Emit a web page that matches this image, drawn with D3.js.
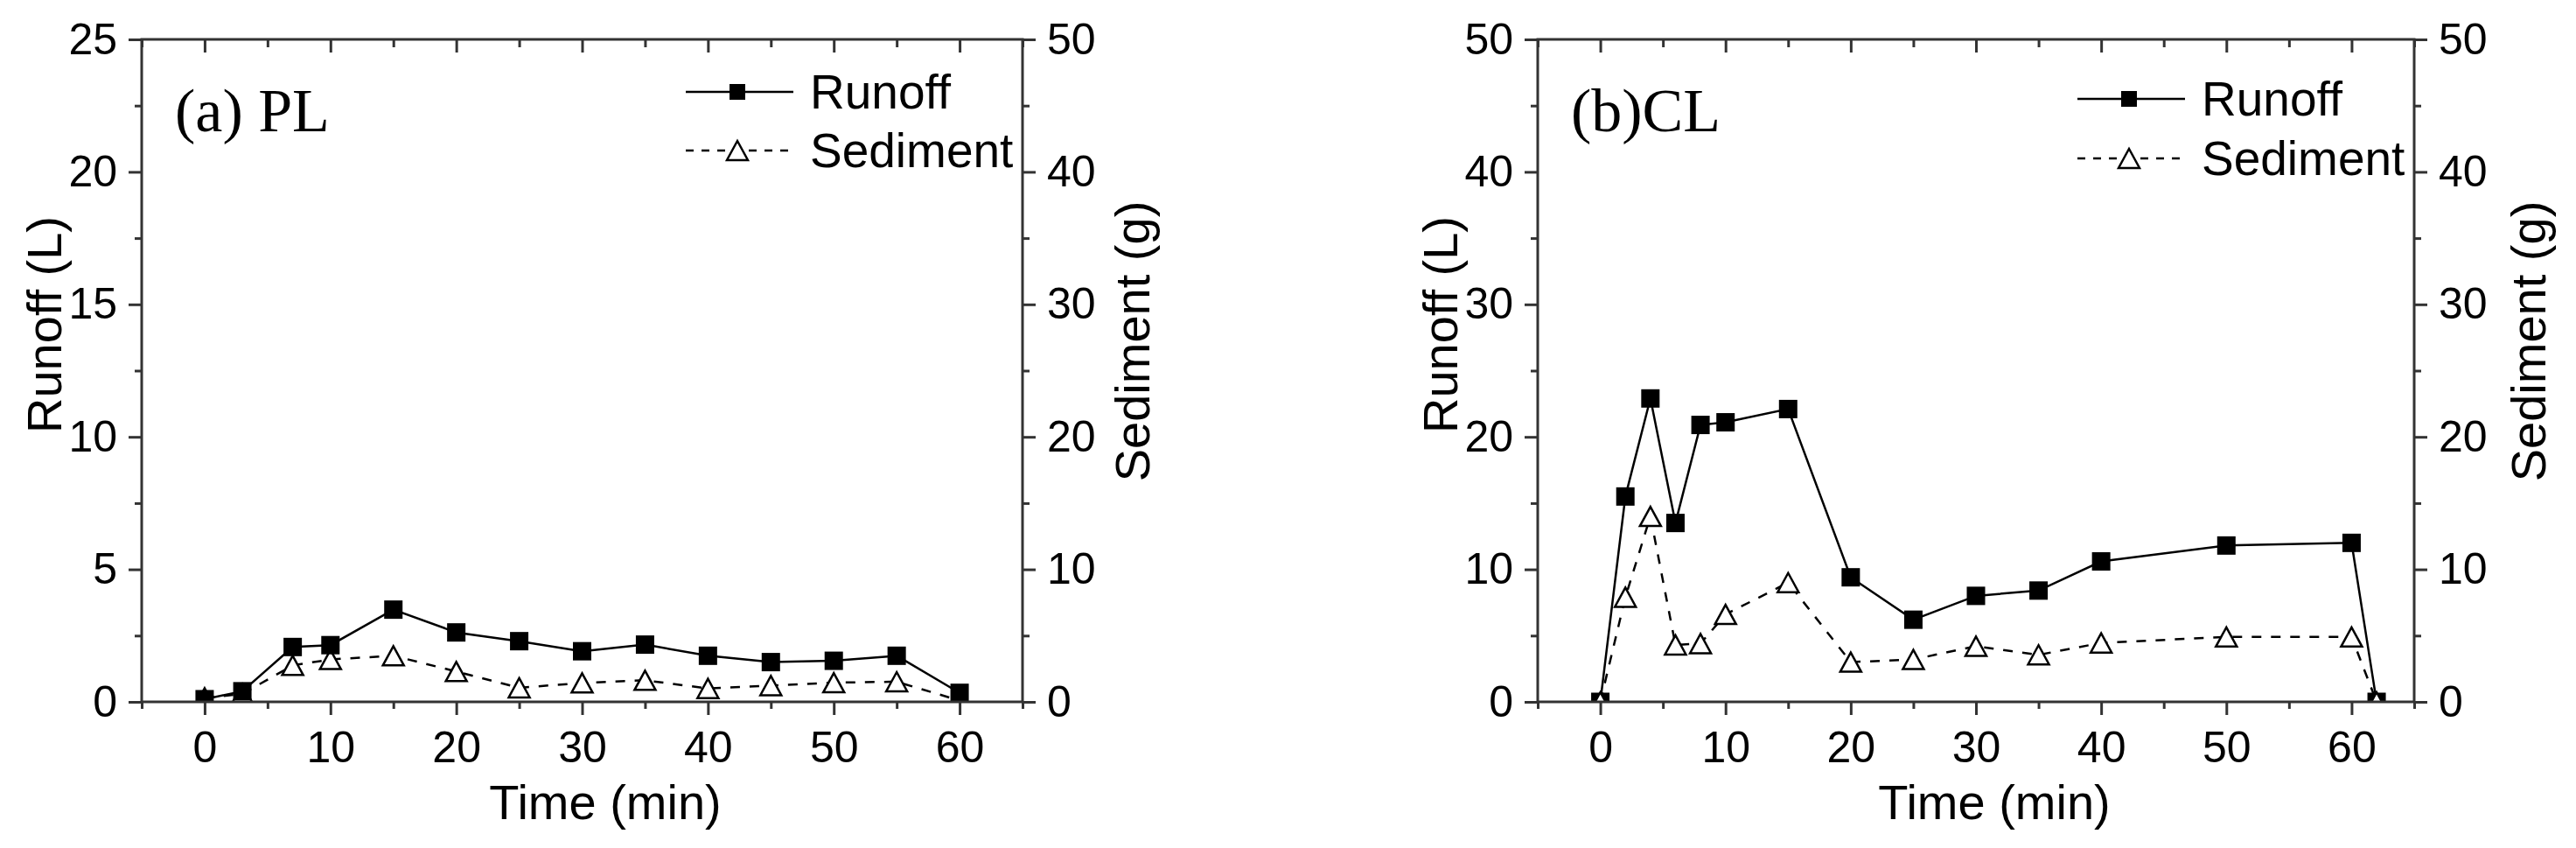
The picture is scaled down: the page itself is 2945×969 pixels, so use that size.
<!DOCTYPE html>
<html>
<head>
<meta charset="utf-8">
<script src="https://cdn.jsdelivr.net/npm/d3@7"></script>
<style>
  body { margin: 0; background: #fff; }
  svg { display: block; }
</style>
</head>
<body>
<script>
// ---- data ----
const timeA = [0, 3, 7, 10, 15, 20, 25, 30, 35, 40, 45, 50, 55, 60];
const runoffA = [0.1, 0.4, 2.07, 2.14, 3.48, 2.62, 2.29, 1.91, 2.16, 1.74, 1.5, 1.55, 1.74, 0.34];
const sedimentA = [0.3, 0.6, 2.75, 3.2, 3.48, 2.29, 1.06, 1.43, 1.63, 1.01, 1.23, 1.45, 1.52, 0.1];

const timeB = [0, 2, 4, 6, 8, 10, 15, 20, 25, 30, 35, 40, 50, 60, 62];
const runoffB = [0, 15.5, 22.9, 13.5, 20.9, 21.1, 22.1, 9.4, 6.2, 8.0, 8.4, 10.6, 11.8, 12.0, 0];
const sedimentB = [0, 7.9, 14.0, 4.3, 4.4, 6.6, 9.0, 3.0, 3.2, 4.2, 3.55, 4.45, 4.9, 4.9, 0];

// ---- tick values ----
const timeTicks = [0, 10, 20, 30, 40, 50, 60];
const timeMinor = [-5, 5, 15, 25, 35, 45, 55, 65];
const runoffTicksA = [0, 5, 10, 15, 20, 25];
const runoffMinorA = [2.5, 7.5, 12.5, 17.5, 22.5];
const runoffTicksB = [0, 10, 20, 30, 40, 50];
const runoffMinorB = [5, 15, 25, 35, 45];
const sedimentTicks = [0, 10, 20, 30, 40, 50];
const sedimentMinor = [5, 15, 25, 35, 45];

const seriesNames = ["Runoff", "Sediment"];

const width = 2945;
const height = 969;
const plotTop = 45, plotBottom = 802;
const sans = '"Liberation Sans", Arial, sans-serif';
const serif = '"Liberation Serif", "Times New Roman", serif';
const axisColor = "#333";

const panels = [
  { id: "a", label: "(a) PL", left: 162, right: 1169,
    time: timeA, runoff: runoffA, sediment: sedimentA,
    runoffMax: 25, runoffTicks: runoffTicksA, runoffMinor: runoffMinorA,
    yTitleX: 70, sedTitleX: 1314, timeTitleX: 692, legendY: [105, 172],
    sedimentOnTop: false },
  { id: "b", label: "(b)CL", left: 1758, right: 2760,
    time: timeB, runoff: runoffB, sediment: sedimentB,
    runoffMax: 50, runoffTicks: runoffTicksB, runoffMinor: runoffMinorB,
    yTitleX: 1666, sedTitleX: 2910, timeTitleX: 2280, legendY: [113, 181],
    sedimentOnTop: true }
];

const svg = d3.select("body").append("svg")
  .attr("width", width)
  .attr("height", height);

svg.append("rect").attr("width", width).attr("height", height).attr("fill", "#fff");

function tri(cx, cy, w = 24, h = 22) {
  return `M${cx},${cy - h / 2}L${cx + w / 2},${cy + h / 2}L${cx - w / 2},${cy + h / 2}Z`;
}

function styleAxis(sel) {
  sel.select(".domain").remove();
  sel.attr("font-family", sans).attr("font-size", 50);
  sel.selectAll(".tick line").attr("stroke", axisColor).attr("stroke-width", 3);
  sel.selectAll(".tick text").attr("fill", "#000");
}

function drawPanel(p) {
  const g = svg.append("g");

  const x = d3.scaleLinear().domain([-5, 65]).range([p.left, p.right]);
  const yL = d3.scaleLinear().domain([0, p.runoffMax]).range([plotBottom, plotTop]);
  const yR = d3.scaleLinear().domain([0, 50]).range([plotBottom, plotTop]);

  const clipId = "clip-" + p.id;
  svg.append("clipPath").attr("id", clipId)
    .append("rect")
    .attr("x", p.left).attr("y", plotTop)
    .attr("width", p.right - p.left).attr("height", plotBottom - plotTop);

  // bottom axis (outward) and top axis (inward, no labels)
  g.append("g").attr("transform", `translate(0,${plotBottom})`)
    .call(d3.axisBottom(x).tickValues(timeTicks).tickSize(15).tickPadding(18).tickFormat(d3.format("d")))
    .call(styleAxis);
  g.append("g").attr("transform", `translate(0,${plotBottom})`)
    .call(d3.axisBottom(x).tickValues(timeMinor).tickSize(8).tickFormat(""))
    .call(styleAxis);
  g.append("g").attr("transform", `translate(0,${plotTop})`)
    .call(d3.axisBottom(x).tickValues(timeTicks).tickSize(15).tickFormat(""))
    .call(styleAxis);
  g.append("g").attr("transform", `translate(0,${plotTop})`)
    .call(d3.axisBottom(x).tickValues(timeMinor).tickSize(9).tickFormat(""))
    .call(styleAxis);

  // left axis
  g.append("g").attr("transform", `translate(${p.left},0)`)
    .call(d3.axisLeft(yL).tickValues(p.runoffTicks).tickSize(15).tickPadding(13).tickFormat(d3.format("d")))
    .call(styleAxis);
  g.append("g").attr("transform", `translate(${p.left},0)`)
    .call(d3.axisLeft(yL).tickValues(p.runoffMinor).tickSize(8).tickFormat(""))
    .call(styleAxis);

  // right axis
  g.append("g").attr("transform", `translate(${p.right},0)`)
    .call(d3.axisRight(yR).tickValues(sedimentTicks).tickSize(15).tickPadding(13).tickFormat(d3.format("d")))
    .call(styleAxis);
  g.append("g").attr("transform", `translate(${p.right},0)`)
    .call(d3.axisRight(yR).tickValues(sedimentMinor).tickSize(8).tickFormat(""))
    .call(styleAxis);

  // data
  const runoffPts = p.time.map((t, i) => [x(t), yL(p.runoff[i])]);
  const sedPts = p.time.map((t, i) => [x(t), yR(p.sediment[i])]);
  const plot = g.append("g").attr("clip-path", `url(#${clipId})`);

  function drawRunoff() {
    plot.append("path")
      .attr("d", d3.line()(runoffPts))
      .attr("fill", "none").attr("stroke", "#000").attr("stroke-width", 2.5);
    plot.selectAll(null).data(runoffPts).join("rect")
      .attr("x", d => d[0] - 10.5).attr("y", d => d[1] - 10.5)
      .attr("width", 21).attr("height", 21)
      .attr("fill", "#000");
  }
  function drawSediment() {
    plot.append("path")
      .attr("d", d3.line()(sedPts))
      .attr("fill", "none").attr("stroke", "#000").attr("stroke-width", 2.5)
      .attr("stroke-dasharray", "11,11");
    plot.selectAll(null).data(sedPts).join("path")
      .attr("d", d => tri(d[0], d[1]))
      .attr("fill", "#fff").attr("stroke", "#000").attr("stroke-width", 2.5);
  }
  if (p.sedimentOnTop) { drawRunoff(); drawSediment(); }
  else { drawSediment(); drawRunoff(); }

  // frame
  g.append("rect")
    .attr("x", p.left).attr("y", plotTop)
    .attr("width", p.right - p.left).attr("height", plotBottom - plotTop)
    .attr("fill", "none").attr("stroke", axisColor).attr("stroke-width", 3);

  // panel label
  g.append("text")
    .attr("x", p.left + 38).attr("y", 150)
    .attr("font-family", serif).attr("font-size", 70)
    .text(p.label);

  // axis titles
  g.append("text")
    .attr("transform", `translate(${p.yTitleX},371) rotate(-90)`)
    .attr("text-anchor", "middle")
    .attr("font-family", sans).attr("font-size", 56)
    .text("Runoff (L)");
  g.append("text")
    .attr("transform", `translate(${p.sedTitleX},390) rotate(-90)`)
    .attr("text-anchor", "middle")
    .attr("font-family", sans).attr("font-size", 56)
    .text("Sediment (g)");
  g.append("text")
    .attr("x", p.timeTitleX).attr("y", 936)
    .attr("text-anchor", "middle")
    .attr("font-family", sans).attr("font-size", 56)
    .text("Time (min)");

  // legend
  const R = p.right;
  const leg = g.append("g");
  const ly0 = p.legendY[0], ly1 = p.legendY[1];
  leg.append("line")
    .attr("x1", R - 385).attr("x2", R - 262).attr("y1", ly0).attr("y2", ly0)
    .attr("stroke", "#000").attr("stroke-width", 2.5);
  leg.append("rect")
    .attr("x", R - 326 - 9).attr("y", ly0 - 9).attr("width", 18).attr("height", 18)
    .attr("fill", "#000");
  leg.append("text")
    .attr("x", R - 243).attr("y", ly0 + 19)
    .attr("font-family", sans).attr("font-size", 55)
    .text(seriesNames[0]);
  leg.append("line")
    .attr("x1", R - 385).attr("x2", R - 262).attr("y1", ly1).attr("y2", ly1)
    .attr("stroke", "#000").attr("stroke-width", 2.5)
    .attr("stroke-dasharray", "9,9");
  leg.append("path")
    .attr("d", tri(R - 326, ly1))
    .attr("fill", "#fff").attr("stroke", "#000").attr("stroke-width", 2.5);
  leg.append("text")
    .attr("x", R - 243).attr("y", ly1 + 19)
    .attr("font-family", sans).attr("font-size", 55)
    .text(seriesNames[1]);
}

panels.forEach(drawPanel);
</script>
</body>
</html>
